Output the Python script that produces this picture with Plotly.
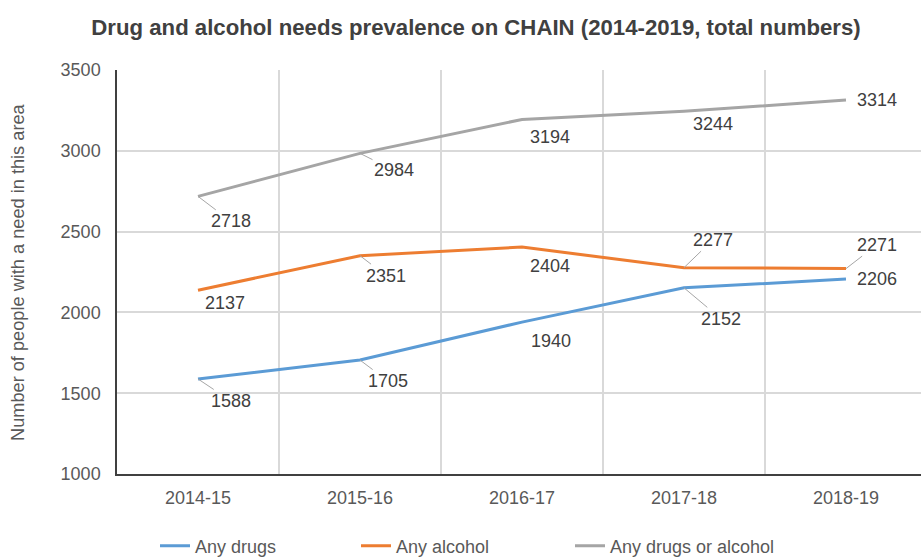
import plotly.graph_objects as go

categories = ["2014-15", "2015-16", "2016-17", "2017-18", "2018-19"]
any_drugs = [1588, 1705, 1940, 2152, 2206]
any_alcohol = [2137, 2351, 2404, 2277, 2271]
any_drugs_or_alcohol = [2718, 2984, 3194, 3244, 3314]
y_ticks = [1000, 1500, 2000, 2500, 3000, 3500]

series = [
    ("Any drugs", any_drugs, "#5B9BD5", "legend"),
    ("Any alcohol", any_alcohol, "#ED7D31", "legend2"),
    ("Any drugs or alcohol", any_drugs_or_alcohol, "#A5A5A5", "legend3"),
]

# label offsets in pixels (dx, dy downward) and whether a leader line is drawn
label_offsets = {
    "Any drugs": [(33, 22, True), (28, 21, True), (29, 19, False), (37, 31, True), (31, 0, False)],
    "Any alcohol": [(27, 13, False), (26, 20, True), (28, 19, False), (29, -28, True), (31, -24, True)],
    "Any drugs or alcohol": [(33, 25, True), (34, 17, True), (28, 18, False), (29, 13, False), (31, 0, False)],
}

FONT = "Liberation Sans, Arial, sans-serif"

fig = go.Figure()
for name, vals, color, lg in series:
    fig.add_trace(go.Scatter(
        x=categories, y=vals, mode="lines", name=name,
        line=dict(color=color, width=3), legend=lg,
    ))

annotations = []
for name, vals, color, lg in series:
    for cat, v, (dx, dy, leader) in zip(categories, vals, label_offsets[name]):
        annotations.append(dict(
            x=cat, y=v, xref="x", yref="y", text=str(v),
            showarrow=True, arrowhead=0, arrowwidth=1,
            arrowcolor="#A6A6A6" if leader else "rgba(0,0,0,0)",
            ax=dx, ay=dy, standoff=0,
            font=dict(family=FONT, size=18, color="#404040"),
        ))

annotations.append(dict(
    text="Number of people with a need in this area", textangle=-90,
    xref="paper", yref="paper", x=(18 - 117) / 804, y=0.5,
    xanchor="center", yanchor="middle", showarrow=False,
    font=dict(family=FONT, size=18.2, color="#595959"),
))

legend_common = dict(
    orientation="h", xref="container", yref="container", yanchor="middle",
    y=(558 - 546) / 558, xanchor="left", bgcolor="rgba(0,0,0,0)",
    font=dict(family=FONT, size=18, color="#595959"), itemwidth=30,
)

fig.update_layout(
    width=921, height=558,
    margin=dict(l=117, r=0, t=70, b=84),
    paper_bgcolor="white", plot_bgcolor="white",
    title=dict(
        text="<b>Drug and alcohol needs prevalence on CHAIN (2014-2019, total numbers)</b>",
        xref="container", x=476 / 921, xanchor="center",
        yref="container", y=1 - 27 / 558, yanchor="middle",
        font=dict(family=FONT, size=22.2, color="#404040"),
    ),
    xaxis=dict(
        type="category", range=[-0.5, 4.463], tickson="boundaries",
        showgrid=True, gridcolor="#D9D9D9", gridwidth=2,
        showline=True, linecolor="#404040", linewidth=2,
        ticks="", ticklabelstandoff=6,
        tickfont=dict(family=FONT, size=18, color="#595959"),
        fixedrange=True,
    ),
    yaxis=dict(
        range=[1000, 3500], tickvals=y_ticks,
        showgrid=True, gridcolor="#D9D9D9", gridwidth=2,
        showline=True, linecolor="#404040", linewidth=1.5,
        ticks="", ticklabelstandoff=11, zeroline=False,
        tickfont=dict(family=FONT, size=18, color="#595959"),
        fixedrange=True,
    ),
    legend=dict(legend_common, x=155 / 921),
    legend2=dict(legend_common, x=356 / 921),
    legend3=dict(legend_common, x=570 / 921),
    annotations=annotations,
    showlegend=True,
)

fig.write_html(
    "out.html",
    config={"displayModeBar": False},
    post_script="document.body.style.margin='0';document.body.style.overflow='hidden';",
)
